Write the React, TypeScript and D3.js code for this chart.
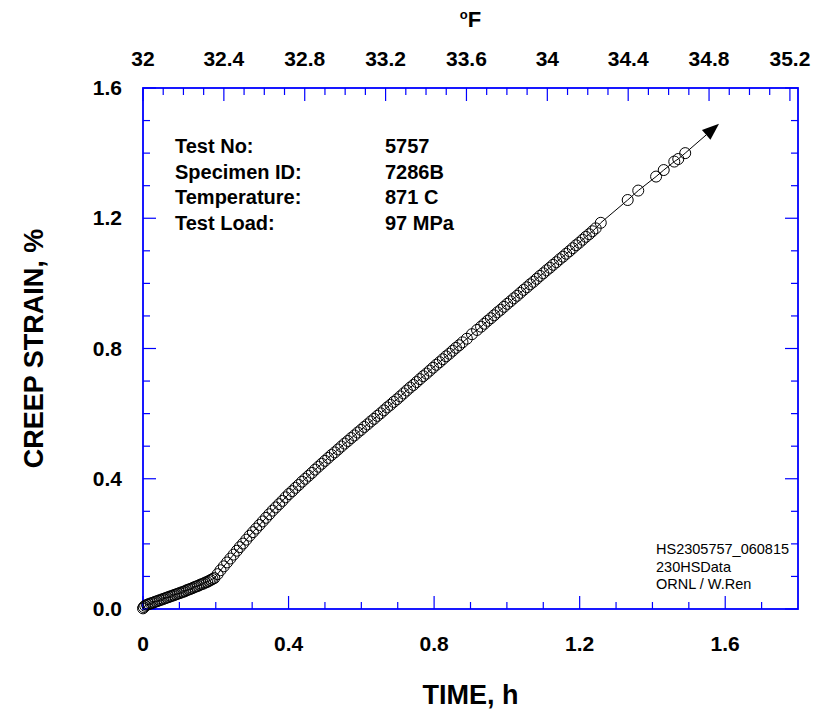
import React from "react";
import * as d3 from "d3";

const timeH: number[] = [
  0, 0.002, 0.006, 0.011, 0.016, 0.021, 0.026, 0.031, 0.036, 0.041, 0.046, 0.051, 0.056, 0.061,
  0.066, 0.071, 0.076, 0.081, 0.086, 0.091, 0.096, 0.101, 0.106, 0.111, 0.116, 0.121, 0.126,
  0.131, 0.136, 0.141, 0.146, 0.151, 0.156, 0.161, 0.166, 0.171, 0.176, 0.181, 0.186, 0.191,
  0.196, 0.205, 0.213, 0.222, 0.231, 0.240, 0.249, 0.258, 0.266, 0.275, 0.284, 0.293, 0.302,
  0.311, 0.320, 0.329, 0.338, 0.347, 0.356, 0.365, 0.374, 0.383, 0.392, 0.401, 0.410, 0.419,
  0.428, 0.437, 0.446, 0.455, 0.464, 0.473, 0.482, 0.491, 0.500, 0.509, 0.518, 0.527, 0.536,
  0.545, 0.554, 0.563, 0.572, 0.581, 0.590, 0.599, 0.608, 0.617, 0.626, 0.635, 0.644, 0.653,
  0.662, 0.671, 0.680, 0.689, 0.698, 0.707, 0.716, 0.725, 0.734, 0.743, 0.752, 0.761, 0.770,
  0.779, 0.788, 0.797, 0.806, 0.815, 0.824, 0.833, 0.842, 0.851, 0.860, 0.869, 0.878, 0.890,
  0.904, 0.918, 0.929, 0.938, 0.947, 0.956, 0.965, 0.974, 0.983, 0.992, 1.001, 1.010, 1.019,
  1.028, 1.037, 1.046, 1.055, 1.064, 1.073, 1.082, 1.091, 1.100, 1.109, 1.118, 1.127, 1.136,
  1.145, 1.154, 1.163, 1.172, 1.181, 1.190, 1.199, 1.208, 1.217, 1.226, 1.235, 1.244, 1.258,
  1.332, 1.361, 1.410, 1.431, 1.460, 1.471, 1.490,
];

const strainPct: number[] = [
  0.002, 0.006, 0.010, 0.013, 0.015, 0.017, 0.019, 0.021, 0.023, 0.025, 0.027, 0.029, 0.031, 0.033,
  0.035, 0.037, 0.039, 0.041, 0.043, 0.045, 0.047, 0.049, 0.051, 0.053, 0.055, 0.058, 0.060,
  0.062, 0.064, 0.067, 0.069, 0.071, 0.074, 0.076, 0.078, 0.081, 0.083, 0.086, 0.089, 0.092,
  0.095, 0.107, 0.119, 0.131, 0.143, 0.155, 0.167, 0.179, 0.190, 0.201, 0.213, 0.225, 0.236,
  0.247, 0.258, 0.269, 0.280, 0.291, 0.302, 0.312, 0.322, 0.332, 0.343, 0.353, 0.362, 0.372,
  0.381, 0.391, 0.400, 0.409, 0.418, 0.428, 0.437, 0.446, 0.455, 0.464, 0.473, 0.481, 0.490,
  0.499, 0.508, 0.516, 0.525, 0.533, 0.542, 0.550, 0.559, 0.567, 0.576, 0.584, 0.593, 0.601,
  0.610, 0.619, 0.627, 0.636, 0.644, 0.653, 0.662, 0.671, 0.680, 0.688, 0.697, 0.706, 0.715,
  0.723, 0.732, 0.741, 0.750, 0.758, 0.767, 0.776, 0.784, 0.793, 0.802, 0.810, 0.819, 0.830,
  0.844, 0.857, 0.867, 0.876, 0.885, 0.893, 0.902, 0.911, 0.919, 0.928, 0.937, 0.945, 0.954,
  0.962, 0.971, 0.980, 0.988, 0.997, 1.005, 1.014, 1.023, 1.031, 1.040, 1.048, 1.057, 1.065,
  1.074, 1.082, 1.091, 1.099, 1.108, 1.117, 1.125, 1.134, 1.143, 1.151, 1.160, 1.169, 1.186,
  1.256, 1.285, 1.328, 1.348, 1.374, 1.382, 1.400,
];

const arrowTip: [number, number] = [1.583, 1.49];

const bottomTickLabels: string[] = ["0", "0.4", "0.8", "1.2", "1.6"];
const leftTickLabels: string[] = ["0.0", "0.4", "0.8", "1.2", "1.6"];
const topTickLabels: string[] = ["32", "32.4", "32.8", "33.2", "33.6", "34", "34.4", "34.8", "35.2"];

const infoLabels: string[] = ["Test No:", "Specimen ID:", "Temperature:", "Test Load:"];
const infoValues: string[] = ["5757", "7286B", "871 C", "97 MPa"];
const noteLines: string[] = ["HS2305757_060815", "230HSData", "ORNL / W.Ren"];

const W = 815;
const H = 713;
const M = { left: 143, right: 798, top: 88, bottom: 609 };
const FONT = "'Liberation Sans', Arial, Helvetica, sans-serif";
const BLUE = "#0000ff";

export default function App() {
  const x = d3.scaleLinear().domain([0, 1.8]).range([M.left, M.right]);
  const y = d3.scaleLinear().domain([0, 1.6]).range([M.bottom, M.top]);
  // top axis: deg F = 32 + 1.8 * value
  const xF = d3.scaleLinear().domain([32, 32 + 1.8 * 1.8]).range([M.left, M.right]);

  const pts = timeH.map((t, i) => [t, strainPct[i]] as [number, number]);
  const line = d3
    .line<[number, number]>()
    .x((d) => x(d[0]))
    .y((d) => y(d[1]));
  const last = pts[pts.length - 1];

  const tipX = x(arrowTip[0]);
  const tipY = y(arrowTip[1]);
  const lx = x(last[0]);
  const ly = y(last[1]);
  const ang = Math.atan2(tipY - ly, tipX - lx);
  const aL = 17;
  const aW = 6.5;
  const bx = tipX - aL * Math.cos(ang);
  const by = tipY - aL * Math.sin(ang);
  const arrowPath = `M${tipX},${tipY} L${bx + aW * Math.sin(ang)},${by - aW * Math.cos(ang)} L${bx - aW * Math.sin(ang)},${by + aW * Math.cos(ang)} Z`;

  const xMinor = d3.range(0, 18).map((i) => i / 10);
  const yMinor = d3.range(0, 17).map((i) => i / 10);
  const fMinor = d3.range(0, 33).map((i) => 32 + i / 10);

  const MAJ = 13;
  const MIN = 7;

  return (
    <svg width={W} height={H} style={{ position: "absolute", left: 0, top: 0, background: "#fff" }}>
      <rect x={0} y={0} width={W} height={H} fill="#fff" />
      {xMinor.map((v, i) => {
        const major = i % 4 === 0;
        const len = major ? MAJ : MIN;
        return (
          <line key={"xb" + i} x1={x(v)} x2={x(v)} y1={M.bottom} y2={M.bottom - len} stroke={BLUE} strokeWidth={1.2} />
        );
      })}
      {fMinor.map((v, i) => {
        const major = i % 4 === 0;
        const len = major ? MAJ : MIN;
        return (
          <line key={"xt" + i} x1={xF(v)} x2={xF(v)} y1={M.top} y2={M.top + len} stroke={BLUE} strokeWidth={1.2} />
        );
      })}
      {yMinor.map((v, i) => {
        const major = i % 4 === 0;
        const len = major ? MAJ : MIN;
        return (
          <g key={"y" + i}>
            <line x1={M.left} x2={M.left + len} y1={y(v)} y2={y(v)} stroke={BLUE} strokeWidth={1.2} />
            <line x1={M.right} x2={M.right - len} y1={y(v)} y2={y(v)} stroke={BLUE} strokeWidth={1.2} />
          </g>
        );
      })}
      <rect x={M.left} y={M.top} width={M.right - M.left} height={M.bottom - M.top} fill="none" stroke={BLUE} strokeWidth={1.8} />

      {bottomTickLabels.map((s, i) => (
        <text key={"bl" + i} x={x(i * 0.4)} y={651} textAnchor="middle" fontFamily={FONT} fontWeight="bold" fontSize={21}>
          {s}
        </text>
      ))}
      {leftTickLabels.map((s, i) => (
        <text key={"ll" + i} x={122} y={y(i * 0.4) + 7} textAnchor="end" fontFamily={FONT} fontWeight="bold" fontSize={21}>
          {s}
        </text>
      ))}
      {topTickLabels.map((s, i) => (
        <text key={"tl" + i} x={xF(32 + i * 0.4)} y={66} textAnchor="middle" fontFamily={FONT} fontWeight="bold" fontSize={21}>
          {s}
        </text>
      ))}

      <text x={(M.left + M.right) / 2} y={27} textAnchor="middle" fontFamily={FONT} fontWeight="bold" fontSize={22}>
        <tspan fontSize={13} dy={-8}>o</tspan>
        <tspan dy={8}>F</tspan>
      </text>
      <text x={(M.left + M.right) / 2} y={704} textAnchor="middle" fontFamily={FONT} fontWeight="bold" fontSize={27}>
        TIME, h
      </text>
      <text
        transform={`translate(43,${(M.top + M.bottom) / 2}) rotate(-90)`}
        textAnchor="middle"
        fontFamily={FONT}
        fontWeight="bold"
        fontSize={27}
      >
        CREEP STRAIN, %
      </text>

      {infoLabels.map((s, i) => (
        <g key={"inf" + i}>
          <text x={175} y={153 + i * 25.5} fontFamily={FONT} fontWeight="bold" fontSize={20}>
            {s}
          </text>
          <text x={385} y={153 + i * 25.5} fontFamily={FONT} fontWeight="bold" fontSize={20}>
            {infoValues[i]}
          </text>
        </g>
      ))}

      {noteLines.map((s, i) => (
        <text key={"n" + i} x={656} y={554 + i * 17.5} fontFamily={FONT} fontSize={14.5}>
          {s}
        </text>
      ))}

      <path d={line(pts) || ""} fill="none" stroke="#000" strokeWidth={1} />
      <line x1={lx} y1={ly} x2={bx} y2={by} stroke="#000" strokeWidth={1} />
      <path d={arrowPath} fill="#000" />
      {pts.map((d, i) => (
        <circle key={"p" + i} cx={x(d[0])} cy={y(d[1])} r={5.5} fill="none" stroke="#000" strokeWidth={1} />
      ))}
    </svg>
  );
}
